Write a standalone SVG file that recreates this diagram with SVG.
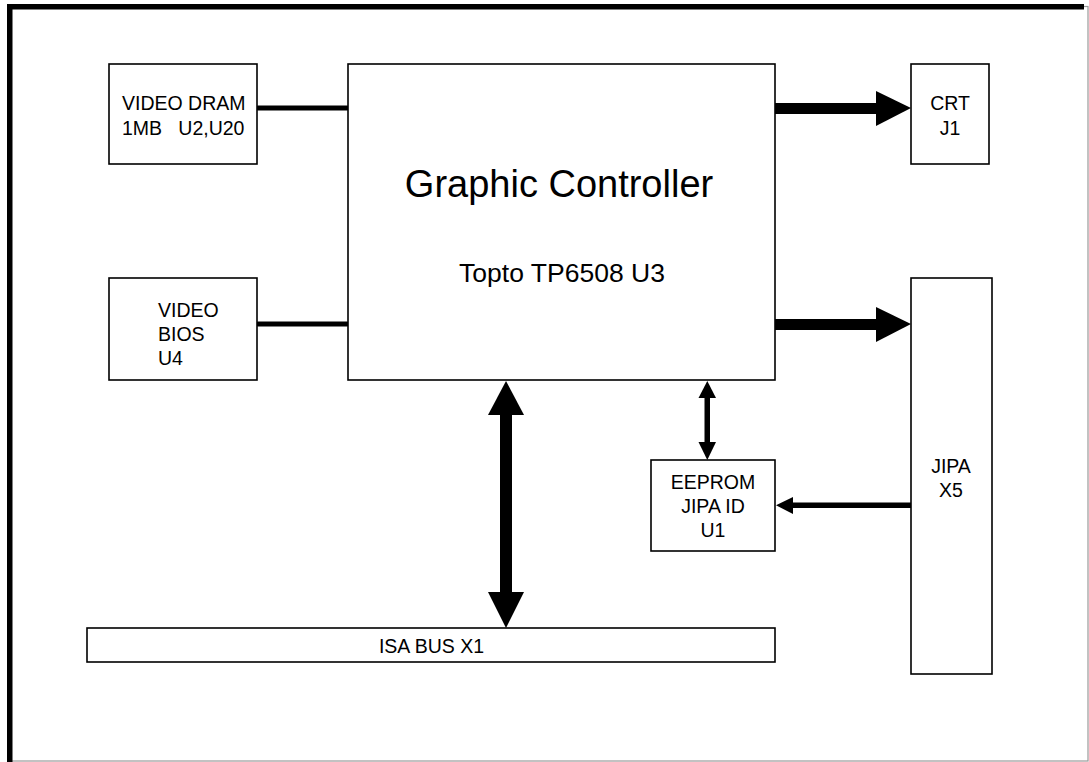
<svg xmlns="http://www.w3.org/2000/svg" width="1089" height="762" viewBox="0 0 1089 762">
<style>
.box{fill:#fff;stroke:#000;stroke-width:1.6}
.t{font-family:"Liberation Sans",Arial,sans-serif;font-size:19.5px;fill:#000}
.c{text-anchor:middle}
.bus{stroke:#000;stroke-width:5;stroke-linecap:round;fill:none}
.head{fill:#000}
</style>
<rect width="1089" height="762" fill="#fff"/>
<g id="frame">
<rect x="9.5" y="6.5" width="1078.5" height="754.5" fill="none" stroke="#999" stroke-width="1.2"/>
<rect x="7" y="4" width="1077" height="5.5" fill="#000"/>
<rect x="7" y="4" width="5.5" height="758" fill="#000"/>
</g>
<g id="connectors">
<line class="bus" x1="258" y1="108" x2="347" y2="108"/>
<line class="bus" x1="258" y1="324" x2="347" y2="324"/>
<rect x="775" y="103" width="102" height="11" fill="#000"/>
<polygon class="head" points="876,91 911,108 876,126"/>
<rect x="775" y="319" width="102" height="11" fill="#000"/>
<polygon class="head" points="876,307 911,324 876,342"/>
<rect x="500" y="414" width="12" height="179" fill="#000"/>
<polygon class="head" points="506,381 488,415 524,415"/>
<polygon class="head" points="506,628 488,592 524,592"/>
<rect x="704.5" y="397" width="5.5" height="46" fill="#000"/>
<polygon class="head" points="707.3,381 698.5,398 716,398"/>
<polygon class="head" points="707.3,460 698.5,442 716,442"/>
<rect x="792" y="502.5" width="119" height="5.5" fill="#000"/>
<polygon class="head" points="776,505.3 793,497 793,514"/>
</g>
<g id="video-dram">
<rect class="box" x="109" y="64" width="148" height="100"/>
<text class="t" x="122" y="110">VIDEO DRAM</text>
<text class="t" x="122" y="135" xml:space="preserve">1MB   U2,U20</text>
</g>
<g id="video-bios">
<rect class="box" x="109" y="278" width="148" height="102"/>
<text class="t" x="158" y="317">VIDEO</text>
<text class="t" x="158" y="341">BIOS</text>
<text class="t" x="158" y="365">U4</text>
</g>
<g id="graphic-controller">
<rect class="box" x="348" y="64" width="427" height="316"/>
<text class="t c" x="559" y="197" style="font-size:38px">Graphic Controller</text>
<text class="t c" x="562" y="282" style="font-size:26.5px">Topto TP6508 U3</text>
</g>
<g id="crt">
<rect class="box" x="911" y="64" width="78" height="100"/>
<text class="t c" x="950" y="110">CRT</text>
<text class="t c" x="950" y="135">J1</text>
</g>
<g id="jipa">
<rect class="box" x="911" y="278" width="81" height="396"/>
<text class="t c" x="951" y="473">JIPA</text>
<text class="t c" x="951" y="497">X5</text>
</g>
<g id="eeprom">
<rect class="box" x="651" y="460" width="124" height="91"/>
<text class="t c" x="713" y="489">EEPROM</text>
<text class="t c" x="713" y="513">JIPA ID</text>
<text class="t c" x="713" y="537">U1</text>
</g>
<g id="isa-bus">
<rect class="box" x="87" y="628" width="688" height="34"/>
<text class="t c" x="431.5" y="653">ISA BUS X1</text>
</g>
</svg>
